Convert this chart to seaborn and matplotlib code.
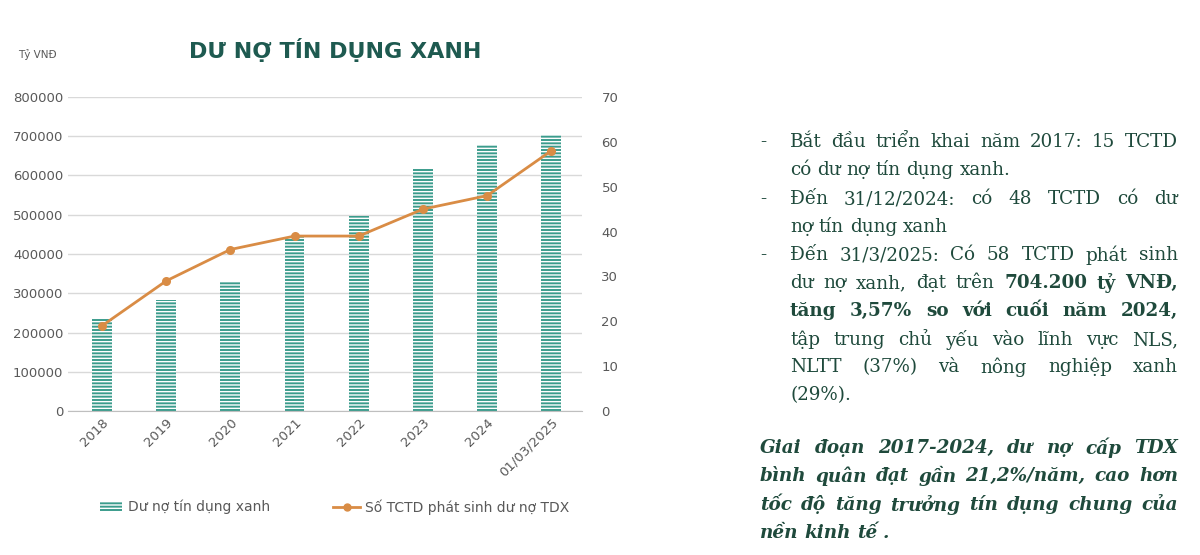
import matplotlib
matplotlib.use("Agg")
import matplotlib.pyplot as plt
import seaborn as sns
import pandas as pd

categories = ["2018", "2019", "2020", "2021", "2022", "2023", "2024", "01/03/2025"]
du_no = [238000, 283000, 330000, 444000, 498000, 618000, 677000, 704200]
so_tctd = [19, 29, 36, 39, 39, 45, 48, 58]
left_ticks = [0, 100000, 200000, 300000, 400000, 500000, 600000, 700000, 800000]
right_ticks = [0, 10, 20, 30, 40, 50, 60, 70]

TEAL = "#3b9c8c"
ORANGE = "#d98c45"
GRAY = "#595959"
TXT = "#1f4a3c"

fig = plt.figure(figsize=(12, 5.55), dpi=100)
ax = fig.add_axes([68/1200, 1-411/555, 514/1200, 314/555])
df = pd.DataFrame({"cat": categories, "v": du_no, "n": so_tctd})
sns.barplot(data=df, x="cat", y="v", ax=ax, color=TEAL, width=0.31, saturation=1)
for p in ax.patches:
    p.set_hatch("-----")
    p.set_edgecolor("white")
    p.set_linewidth(0)
plt.rcParams["hatch.linewidth"] = 1.0
ax.set_xlim(-0.53, 7.48)
ax.set_ylim(0, 800000)
ax.set_yticks(left_ticks)
ax.set_yticklabels([str(t) for t in left_ticks], color=GRAY, fontsize=9.5)
ax.yaxis.grid(True, color="#d9d9d9", lw=1)
ax.set_axisbelow(True)
for s in ["top", "right", "left"]:
    ax.spines[s].set_visible(False)
ax.spines["bottom"].set_color("#bfbfbf")
ax.tick_params(axis="both", length=0)
ax.set_xticks(range(len(categories)))
ax.set_xticklabels(categories, rotation=45, ha="right", rotation_mode="anchor", color=GRAY, fontsize=9.5)
ax.set_xlabel("")
ax.set_ylabel("")

ax2 = ax.twinx()
sns.pointplot(data=df, x="cat", y="n", ax=ax2, color=ORANGE, markers="o",
              markersize=5, linewidth=2)
ax2.set_xlim(-0.53, 7.48)
ax2.set_ylim(0, 70)
ax2.set_yticks(right_ticks)
ax2.set_yticklabels([str(t) for t in right_ticks], color=GRAY, fontsize=9.5)
ax2.tick_params(axis="y", length=0, pad=14)
for s in ax2.spines.values():
    s.set_visible(False)
ax2.set_ylabel("")
ax2.set_xlabel("")

fig.text(335/1200, 1-50/555, "DƯ NỢ TÍN DỤNG XANH", ha="center", va="center",
         fontsize=16, fontweight="bold", color="#1e5a50", fontfamily="DejaVu Sans")
fig.text(18/1200, 1-55/555, "Tỷ VNĐ", fontsize=7.5, color=GRAY, va="center")

# legend
from matplotlib.patches import Rectangle
from matplotlib.lines import Line2D
fig.patches.append(Rectangle((100/1200, 1-512/555), 22/1200, 10/555, transform=fig.transFigure,
                             facecolor=TEAL, hatch="-----", edgecolor="white", lw=0))
fig.text(128/1200, 1-507/555, "Dư nợ tín dụng xanh", fontsize=10, color=GRAY, va="center")
fig.lines.append(Line2D([333/1200, 360/1200], [1-507/555]*2, transform=fig.transFigure, color=ORANGE, lw=2))
fig.lines.append(Line2D([346.5/1200], [1-507/555], transform=fig.transFigure, color=ORANGE, marker="o", ms=5))
fig.text(365/1200, 1-507/555, "Số TCTD phát sinh dư nợ TDX", fontsize=10, color=GRAY, va="center")

# right text, justified
FAM = "DejaVu Serif"
FS = 13.2
lines = [
    (142, [("Bắt đầu triển khai năm 2017: 15 TCTD", "n")], True),
    (170, [("có dư nợ tín dụng xanh.", "n")], False),
    (199, [("Đến 31/12/2024: có 48 TCTD có dư", "n")], True),
    (227, [("nợ tín dụng xanh", "n")], False),
    (255, [("Đến 31/3/2025: Có 58 TCTD phát sinh", "n")], True),
    (283, [("dư nợ xanh, đạt trên", "n"), ("704.200 tỷ VNĐ,", "b")], True),
    (311, [("tăng 3,57% so với cuối năm 2024,", "b")], True),
    (340, [("tập trung chủ yếu vào lĩnh vực NLS,", "n")], True),
    (367, [("NLTT (37%) và nông nghiệp xanh", "n")], True),
    (395, [("(29%).", "n")], False),
    (448, [("Giai đoạn 2017-2024, dư nợ cấp TDX", "bi")], True),
    (476, [("bình quân đạt gần 21,2%/năm, cao hơn", "bi")], True),
    (505, [("tốc độ tăng trưởng tín dụng chung của", "bi")], True),
    (533, [("nền kinh tế .", "bi")], False),
]
dashes = [142, 199, 255]
for y in dashes:
    fig.text(760/1200, 1-y/555, "-", fontsize=FS, color=TXT, fontfamily=FAM, va="center")

fig.canvas.draw()
r = fig.canvas.get_renderer()
def style(s):
    return dict(fontweight="bold" if "b" in s else "normal",
                fontstyle="italic" if "i" in s else "normal")
for y, segs, just in lines:
    x0 = 790 if y < 420 else 760
    x1 = 1178
    words = []
    for t, s in segs:
        for w in t.split(" "):
            words.append((w, s))
    objs = []
    for w, s in words:
        t = fig.text(0, 1-y/555, w, fontsize=FS, color=TXT, fontfamily=FAM, va="center", **style(s))
        bb = t.get_window_extent(renderer=r)
        objs.append((t, bb.width))
    space = fig.text(0, 0, "a a", fontsize=FS, fontfamily=FAM).get_window_extent(renderer=r).width - \
        2*fig.text(0, 0, "a", fontsize=FS, fontfamily=FAM).get_window_extent(renderer=r).width
    for t in fig.texts[-2:]:
        pass
    fig.texts[-1].remove(); fig.texts[-1].remove()
    total = sum(wd for _, wd in objs)
    gap = (x1 - x0 - total)/(len(objs)-1) if (just and len(objs) > 1) else space
    x = x0
    for t, wd in objs:
        t.set_x(x/1200)
        x += wd + gap

fig.savefig("out.png", dpi=100)
